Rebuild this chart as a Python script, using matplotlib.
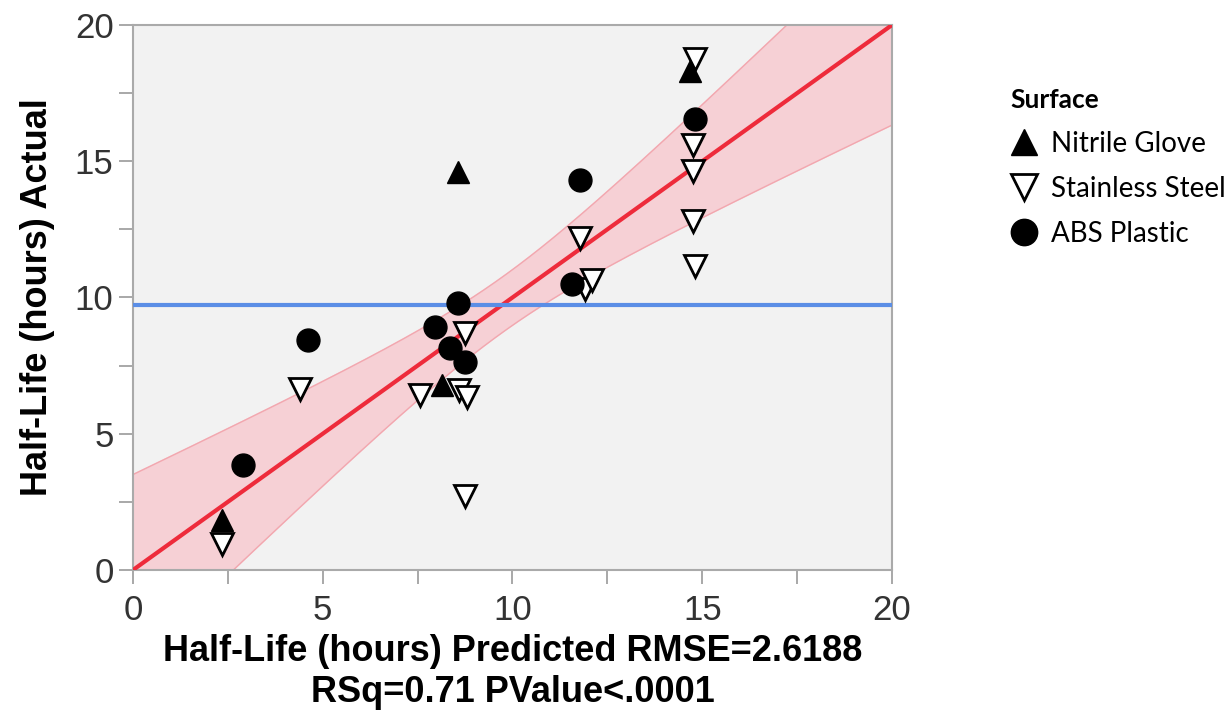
import numpy as np
import matplotlib.pyplot as plt
from matplotlib.ticker import MultipleLocator

# Valores (Predicted, Actual)
nitrile_pred = [2.35, 8.14, 8.57, 14.68]
nitrile_act = [1.84, 6.8, 14.6, 18.3]

steel_pred = [2.35, 4.4, 8.75, 7.56, 8.6, 8.8, 8.75, 11.78, 11.9, 12.1, 14.8, 14.76, 14.76, 14.76, 14.8]
steel_act = [0.95, 6.65, 8.68, 6.43, 6.6, 6.36, 2.7, 12.2, 10.3, 10.65, 18.75, 15.6, 14.65, 12.8, 11.15]

abs_pred = [2.9, 4.6, 8.57, 7.96, 8.35, 8.75, 11.78, 11.57, 14.8]
abs_act = [3.86, 8.45, 9.8, 8.9, 8.15, 7.65, 14.3, 10.48, 16.55]

# linha de ajuste e média
fit_x = [0, 20]
fit_y = [0, 20]
mean_actual = 9.74
rmse = 2.6188
t_crit = 2.056

todos_pred = np.array(nitrile_pred + steel_pred + abs_pred)
n = len(todos_pred)
x_bar = mean_actual
sxx = 245.0

# Banda de confiança da reta ajustada
xs = np.linspace(0, 20, 200)
meia_largura = t_crit * rmse * np.sqrt(1 / n + (xs - x_bar) ** 2 / sxx)
banda_sup = xs + meia_largura
banda_inf = xs - meia_largura

fig = plt.figure(figsize=(12.29, 7.14), dpi=100)
ax = fig.add_axes([0.1082, 0.2017, 0.6176, 0.7633])
ax.set_facecolor('#f2f2f2')

ax.fill_between(xs, banda_inf, banda_sup, color='#f7cdd2', alpha=0.9, zorder=1)
ax.plot(xs, banda_sup, color='#f2a7af', lw=1, zorder=2)
ax.plot(xs, banda_inf, color='#f2a7af', lw=1, zorder=2)
ax.plot(fit_x, fit_y, color='#ee2b3b', lw=3, zorder=3)
ax.axhline(mean_actual, color='#5b8ee6', lw=3, zorder=3)

ms = 16.5
ax.plot(nitrile_pred, nitrile_act, '^', color='black', ms=ms, ls='none', zorder=5, label='Nitrile Glove')
ax.plot(steel_pred, steel_act, 'v', mfc='white', mec='black', mew=2, ms=ms, ls='none', zorder=5, label='Stainless Steel')
ax.plot(abs_pred, abs_act, 'o', color='black', ms=ms, ls='none', zorder=5, label='ABS Plastic')

ax.set_xlim(0, 20)
ax.set_ylim(0, 20)
ax.xaxis.set_major_locator(MultipleLocator(5))
ax.yaxis.set_major_locator(MultipleLocator(5))
ax.xaxis.set_minor_locator(MultipleLocator(2.5))
ax.yaxis.set_minor_locator(MultipleLocator(2.5))
ax.tick_params(which='both', direction='out', length=10, width=1.2, color='#999999')
ax.tick_params(which='major', labelsize=25, labelcolor='#333333', pad=4)
ax.tick_params(axis='x', which='major', pad=7)
for lab in ax.get_xticklabels() + ax.get_yticklabels():
    lab.set_family('Liberation Sans')
for sp in ax.spines.values():
    sp.set_color('#aaaaaa')
    sp.set_linewidth(1.5)

ax.set_xlabel('Half-Life (hours) Predicted RMSE=2.6188\nRSq=0.71 PValue<.0001',
              fontsize=26, fontweight='bold', family='Liberation Sans', labelpad=5, linespacing=1.25)
ax.set_ylabel('Half-Life (hours) Actual', fontsize=26, fontweight='bold', family='Liberation Sans', labelpad=14)

leg = ax.legend(loc='upper left', bbox_to_anchor=(0.813, 0.892), bbox_transform=fig.transFigure,
                frameon=False, title='Surface', markerscale=1.15, handletextpad=0.45,
                labelspacing=0.68, prop={'family': 'Lato', 'size': 20}, alignment='left',
                handlelength=1.0, borderaxespad=0)
leg.get_title().set_fontweight('bold')
leg.get_title().set_family('Lato')
leg.get_title().set_fontsize(19)

plt.savefig('out.png', dpi=100)
